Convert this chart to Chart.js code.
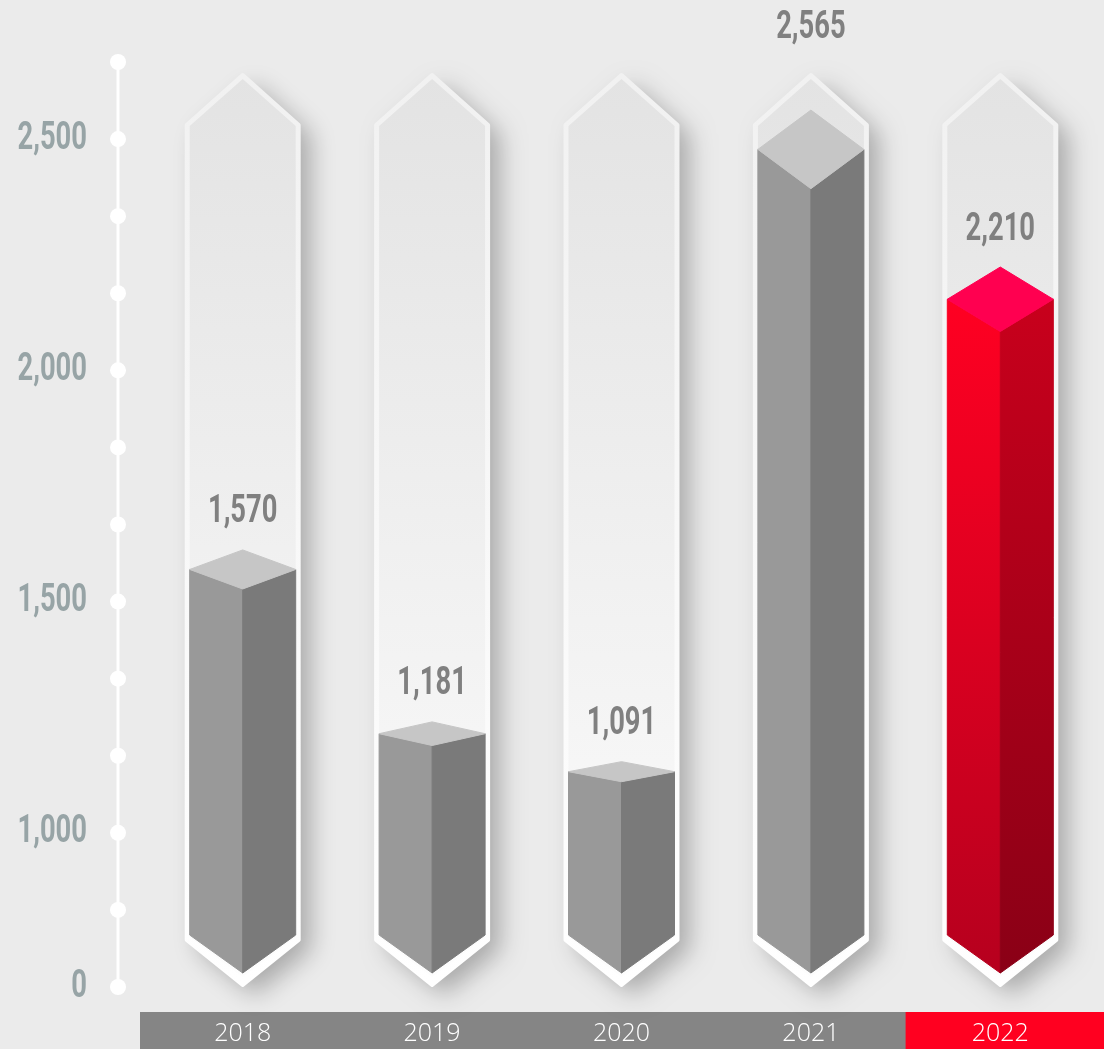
<!DOCTYPE html>
<html>
<head>
<meta charset="utf-8">
<style>
html, body { margin: 0; padding: 0; background: #ebebeb; }
#wrap { width: 1104px; height: 1049px; }
</style>
<script src="https://cdn.jsdelivr.net/npm/chart.js@4.4.1/dist/chart.umd.min.js"></script>
</head>
<body>
<div id="wrap"><canvas id="chart"></canvas></div>
<script>
// -------- DATA --------
const years = ['2018', '2019', '2020', '2021', '2022'];
const totals = [1570, 1181, 1091, 2565, 2210];
// decorative dotted axis: one entry per dot, bottom to top
const axisLabels = ['0', '', '1,000', '', '', '1,500', '', '', '2,000', '', '', '2,500', ''];
const highlightIndex = 4;
// -------- END DATA --------

// -------- DRAWING HELPERS --------
const NARROW_FONT = 'bold 38px "Roboto", "Liberation Sans", sans-serif';

function hexPath(ctx, cx, hw, top, topShoulder, botShoulder, bottom) {
    ctx.beginPath();
    ctx.moveTo(cx, top);
    ctx.lineTo(cx + hw, topShoulder);
    ctx.lineTo(cx + hw, botShoulder);
    ctx.lineTo(cx, bottom);
    ctx.lineTo(cx - hw, botShoulder);
    ctx.lineTo(cx - hw, topShoulder);
    ctx.closePath();
}

function poly(ctx, pts, fill) {
    ctx.beginPath();
    ctx.moveTo(pts[0][0], pts[0][1]);
    for (let i = 1; i < pts.length; i++) ctx.lineTo(pts[i][0], pts[i][1]);
    ctx.closePath();
    ctx.fillStyle = fill;
    ctx.fill();
    ctx.strokeStyle = fill;
    ctx.lineWidth = 1;
    ctx.lineJoin = 'round';
    ctx.stroke();
}

function vGrad(ctx, y0, y1, c0, c1) {
    const g = ctx.createLinearGradient(0, y0, 0, y1);
    g.addColorStop(0, c0);
    g.addColorStop(1, c1);
    return g;
}

// tall condensed numbers, like the original display face
function narrowText(ctx, text, x, y, color, align) {
    ctx.save();
    ctx.translate(x, y);
    ctx.scale(0.72, 1);
    ctx.fillStyle = color;
    ctx.font = NARROW_FONT;
    ctx.textAlign = align;
    ctx.textBaseline = 'middle';
    ctx.fillText(text, 0, 0);
    ctx.restore();
}
// -------- END DRAWING HELPERS --------

// -------- PLUGIN --------
const columnsPlugin = {
    id: 'columns',
    beforeDraw(chart) {
        const { ctx, chartArea: ca, width, height } = chart;
        const xs = chart.getDatasetMeta(0).data.map(b => b.x);
        ctx.save();
        ctx.fillStyle = '#ebebeb';
        ctx.fillRect(0, 0, width, height);
        const bandTop = ca.bottom + 25;
        ctx.fillStyle = '#858585';
        ctx.fillRect(ca.left - 8, bandTop, width - ca.left + 8, height - bandTop);
        const split = (xs[highlightIndex - 1] + xs[highlightIndex]) / 2;
        ctx.fillStyle = '#ff0020';
        ctx.fillRect(split, bandTop, width - split, height - bandTop);
        ctx.restore();
    },
    beforeDatasetsDraw(chart) {
        const { ctx, chartArea: ca } = chart;
        const axis = chart.scales.axis;
        ctx.save();

        // dotted axis with its labels
        const ax = ca.left - 30;
        ctx.strokeStyle = '#ffffff';
        ctx.lineWidth = 3;
        ctx.beginPath();
        ctx.moveTo(ax, axis.getPixelForValue(axisLabels.length - 1));
        ctx.lineTo(ax, axis.getPixelForValue(0));
        ctx.stroke();
        axisLabels.forEach((label, i) => {
            const py = axis.getPixelForValue(i);
            ctx.fillStyle = '#ffffff';
            ctx.beginPath();
            ctx.arc(ax, py, 8, 0, Math.PI * 2);
            ctx.fill();
            if (label) narrowText(ctx, label, ca.left - 61, py, '#97a4a6', 'right');
        });

        const top = ca.top + 13;
        const bottom = ca.bottom - 2;
        const meta = chart.getDatasetMeta(0);

        meta.data.forEach((bar, i) => {
            const cx = bar.x;
            const hw = bar.width / 2;

            // capsule with shadow
            ctx.save();
            ctx.shadowColor = 'rgba(0,0,0,0.28)';
            ctx.shadowBlur = 24;
            ctx.shadowOffsetX = 12;
            ctx.shadowOffsetY = 10;
            hexPath(ctx, cx, hw + 3, top, top + 50, bottom - 45, bottom);
            ctx.fillStyle = '#f3f3f3';
            ctx.fill();
            ctx.restore();

            hexPath(ctx, cx, hw + 3, top, top + 50, bottom - 45, bottom);
            ctx.fillStyle = vGrad(ctx, top, bottom, '#f1f1f1', '#ffffff');
            ctx.lineJoin = 'round';
            ctx.lineWidth = 4;
            ctx.strokeStyle = vGrad(ctx, top, bottom, '#f1f1f1', '#ffffff');
            ctx.fill();
            ctx.stroke();

            hexPath(ctx, cx, hw, top + 4, top + 51, bottom - 48, bottom - 8);
            const inner = ctx.createLinearGradient(0, top, 0, bottom);
            inner.addColorStop(0, '#e3e3e3');
            inner.addColorStop(0.72, '#f5f5f5');
            inner.addColorStop(1, '#fdfdfd');
            ctx.fillStyle = inner;
            ctx.fill();

            // 3D bar
            const yc = bar.y;
            const d = 0.047 * (bottom - yc);
            const L = cx - hw, R = cx + hw;
            const ys = ca.bottom - 52, yp = ca.bottom - 14;
            const hot = i === highlightIndex;
            const leftFill = hot ? vGrad(ctx, yc, yp, '#ff0022', '#b6001e') : '#999999';
            const rightFill = hot ? vGrad(ctx, yc, yp, '#c8001c', '#8a0016') : '#7a7a7a';
            const topFill = hot ? '#ff0050' : '#c6c6c6';
            poly(ctx, [[L, yc], [cx, yc + d], [cx, yp], [L, ys]], leftFill);
            poly(ctx, [[cx, yc + d], [R, yc], [R, ys], [cx, yp]], rightFill);
            poly(ctx, [[L, yc], [cx, yc - d], [R, yc], [cx, yc + d]], topFill);

            // value label
            let ly = yc - d - 37;
            if (ly < ca.top + 70) ly = ca.top - 34;
            narrowText(ctx, totals[i].toLocaleString('en-US'), cx, ly, '#808080', 'center');
        });
        ctx.restore();
    }
};
// -------- END PLUGIN --------

// -------- CHART --------
new Chart(document.getElementById('chart'), {
    type: 'bar',
    data: {
        labels: years,
        datasets: [{
            data: totals,
            yAxisID: 'y',
            backgroundColor: 'rgba(0,0,0,0)',
            barThickness: 106
        }]
    },
    options: {
        responsive: true,
        maintainAspectRatio: false,
        animation: false,
        layout: { padding: { top: 62, right: 9, left: 0, bottom: 0 } },
        plugins: {
            legend: { display: false },
            tooltip: { enabled: false }
        },
        scales: {
            x: {
                grid: { display: false, drawTicks: false },
                border: { display: false },
                ticks: {
                    color: '#ffffff',
                    font: { family: '"Open Sans", "Lato", sans-serif', size: 25, weight: 300 },
                    padding: 32
                },
                afterFit(scale) {
                    scale.height = 62;
                    scale.paddingLeft = 0;
                    scale.paddingRight = 0;
                }
            },
            y: {
                display: false,
                min: 581,
                max: 2772
            },
            axis: {
                position: 'left',
                min: 0,
                max: axisLabels.length - 1,
                grid: { display: false, drawTicks: false },
                border: { display: false },
                ticks: { display: false, stepSize: 1 },
                afterFit(scale) {
                    scale.width = 148;
                    scale.paddingTop = 0;
                    scale.paddingBottom = 0;
                }
            }
        }
    },
    plugins: [columnsPlugin]
});
// -------- END CHART --------
</script>
</body>
</html>
